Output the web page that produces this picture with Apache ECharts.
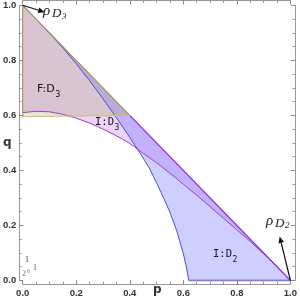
<!DOCTYPE html>
<html>
<head>
<meta charset="utf-8">
<script src="https://cdn.jsdelivr.net/npm/echarts@6/dist/echarts.min.js"></script>
<style>html,body{margin:0;padding:0;background:#fff;}#c{width:300px;height:299px;}</style>
</head>
<body>
<div id="c"></div>
<script>
// ---- data ----
const tickLabels = ['0.0','0.2','0.4','0.6','0.8','1.0'];
// I:D3 lower boundary (purple curve)
const purpleP = [0, 0.05, 0.1, 0.15, 0.2, 0.25, 0.3, 0.35, 0.4, 0.45, 0.5, 0.55, 0.6, 0.65, 0.7, 0.75, 0.8, 0.85, 0.9, 0.95, 1.0];
const purpleQ = [0.610, 0.615, 0.613, 0.604, 0.590, 0.572, 0.550, 0.526, 0.498, 0.462, 0.428, 0.390, 0.350, 0.310, 0.268, 0.226, 0.184, 0.142, 0.097, 0.050, 0.0];
// I:D2 left boundary (blue curve)
const blueP = [0, 0.05, 0.1, 0.15, 0.2, 0.25, 0.3, 0.35, 0.4, 0.45, 0.475, 0.5, 0.525, 0.55, 0.575, 0.6, 0.61, 0.617, 0.62];
const blueQ = [1.0, 0.950, 0.899, 0.845, 0.788, 0.726, 0.660, 0.592, 0.520, 0.445, 0.405, 0.355, 0.303, 0.248, 0.182, 0.098, 0.055, 0.020, 0.0];
// F:D3 region corners
const fP = [0, 0, 0.2, 0.4];
const fQ = [1.0, 0.595, 0.598, 0.6];
// diagonal p + q = 1
const diagP = [0, 0.4, 1];
const diagQ = [1, 0.6, 0];
// annotation arrows: [from point, arrow tip]
const arrowD3 = [[0, 1], [0.082, 0.975]];
const arrowD2 = [[1, 0], [0.96, 0.16]];

const zip = (a, b) => a.map((v, i) => [v, b[i]]);
const purple = zip(purpleP, purpleQ);
const blue = zip(blueP, blueQ);
const fReg = zip(fP, fQ);
const diag = zip(diagP, diagQ);

const polyID3 = purple.concat([[0, 1]]);
const polyID2 = blue.concat([[1, 0]]);
const polyF = fReg;

function poly(points, fill) {
  return {
    type: 'custom', coordinateSystem: 'cartesian2d', silent: true, z: 1,
    data: [[0, 0]],
    renderItem: function (params, api) {
      return { type: 'polygon', shape: { points: points.map(p => api.coord(p)) }, style: { fill: fill, stroke: null } };
    }
  };
}
function line(points, color, width, z) {
  return { type: 'line', data: points, showSymbol: false, symbol: 'none', silent: true, z: z || 3,
    lineStyle: { color: color, width: width }, animation: false };
}
function arrows(list) {
  return {
    type: 'custom', coordinateSystem: 'cartesian2d', silent: true, z: 10, clip: false,
    data: list.map((a, i) => [i, 0]),
    renderItem: function (params, api) {
      const a = list[params.dataIndex];
      const p0 = api.coord(a[0]), p1 = api.coord(a[1]);
      const dx = p1[0] - p0[0], dy = p1[1] - p0[1];
      const L = Math.sqrt(dx * dx + dy * dy), ux = dx / L, uy = dy / L;
      const hl = 6.5, hw = 2.8;
      const bx = p1[0] - ux * hl, by = p1[1] - uy * hl;
      return { type: 'group', children: [
        { type: 'line', shape: { x1: p0[0], y1: p0[1], x2: bx, y2: by }, style: { stroke: '#111', lineWidth: 1.2 } },
        { type: 'polygon', shape: { points: [p1, [bx - uy * hw, by + ux * hw], [bx + uy * hw, by - ux * hw]] }, style: { fill: '#111' } }
      ] };
    }
  };
}

const axisCommon = {
  type: 'value', min: 0, max: 1, interval: 0.2,
  axisLine: { show: true, onZero: false, lineStyle: { color: '#999', width: 1 } },
  axisTick: { show: true, inside: true, length: 4, lineStyle: { color: '#888' } },
  minorTick: { show: true, splitNumber: 4, length: 2.5, lineStyle: { color: '#999' } },
  splitLine: { show: false }
};
const labelStyle = { color: '#333', fontSize: 9.5, fontWeight: 'bold', fontFamily: 'Liberation Sans',
  formatter: v => tickLabels[Math.round(v / 0.2)] };

// text helpers
const mctx = document.createElement('canvas').getContext('2d');
function tw(text, size, family, style, weight) {
  mctx.font = (style || 'normal') + ' ' + (weight || 'normal') + ' ' + size + 'px "' + family + '"';
  return mctx.measureText(text).width;
}
const T = (x, y, text, size, opts) => Object.assign({ type: 'text', x: x, y: y, z: 50,
  style: Object.assign({ text: text, fontSize: size, fill: '#111', fontFamily: 'DejaVu Sans', textVerticalAlign: 'top' }, opts || {}) });
function subLabel(x, y, main, sub, size, subSize, dy, opts) {
  opts = opts || {};
  const w = tw(main, size, opts.fontFamily || 'DejaVu Sans', opts.fontStyle, opts.fontWeight);
  return [T(x, y, main, size, opts), T(x + w + 0.5, y + dy, sub, subSize, opts)];
}
const serifI = { fontFamily: 'Liberation Serif', fontStyle: 'italic', fill: '#222' };
const mono = { fontFamily: 'DejaVu Sans Mono' };

const chart = echarts.init(document.getElementById('c'), null, { renderer: 'canvas' });
chart.setOption({
  animation: false,
  grid: { left: 19.5, right: 6, top: 5.3, bottom: 18.5, containLabel: false },
  xAxis: [
    Object.assign({}, axisCommon, { position: 'bottom', offset: 3.5, axisLabel: Object.assign({ margin: 4 }, labelStyle) }),
    Object.assign({}, axisCommon, { position: 'top', offset: 4.8, axisLabel: { show: false } })
  ],
  yAxis: [
    Object.assign({}, axisCommon, { position: 'left', offset: 3.5, axisLabel: Object.assign({ margin: 3 }, labelStyle) }),
    Object.assign({}, axisCommon, { position: 'right', offset: 4.5, axisLabel: { show: false } })
  ],
  series: [
    poly(polyID3, 'rgba(180,100,235,0.28)'),
    poly(polyID2, 'rgba(110,110,255,0.34)'),
    poly(polyF, 'rgba(165,150,95,0.26)'),
    line(purple, '#a33cc8', 1),
    line(diag.slice(1), '#8a2ccc', 1.2),
    line(blue, '#4a4ae6', 1),
    line([[0.62, 0], [1, 0]], '#7c7cf0', 2),
    line([fReg[1], fReg[0], diag[1]], '#a09650', 1.1),
    line([fReg[1], fReg[2], fReg[3]], '#c2ca5a', 1.1),
    arrows([arrowD3, arrowD2])
  ],
  graphic: [
    // axis names
    T(153, 284, 'p', 12, { fontWeight: 'bold', fill: '#333' }),
    T(3, 137, 'q', 12, { fontWeight: 'bold', fill: '#333' }),
    // rho labels
    T(43, 4, 'ρ', 15, serifI),
    ...subLabel(52, 7, 'D', '3', 13, 9, 5, serifI),
    T(266, 214, 'ρ', 15, serifI),
    ...subLabel(275, 217, 'D', '2', 13, 9, 4, serifI),
    // region labels
    ...subLabel(37, 84, 'F:D', '3', 11, 8, 7),
    ...subLabel(95, 117, 'I:D', '3', 10.5, 8, 7, mono),
    ...subLabel(213, 249, 'I:D', '2', 10.5, 8, 7, mono),
    // bottom-left stray text
    T(25, 256, '1', 8, { fontFamily: 'Liberation Serif', fill: '#333' }),
    T(22, 270, '2', 8, { fontFamily: 'Liberation Serif', fill: '#777' }),
    T(27, 268, '6', 6, { fontFamily: 'Liberation Serif', fill: '#777' }),
    T(33, 264, '1', 8, { fontFamily: 'Liberation Serif', fill: '#666' })
  ]
});
</script>
</body>
</html>
